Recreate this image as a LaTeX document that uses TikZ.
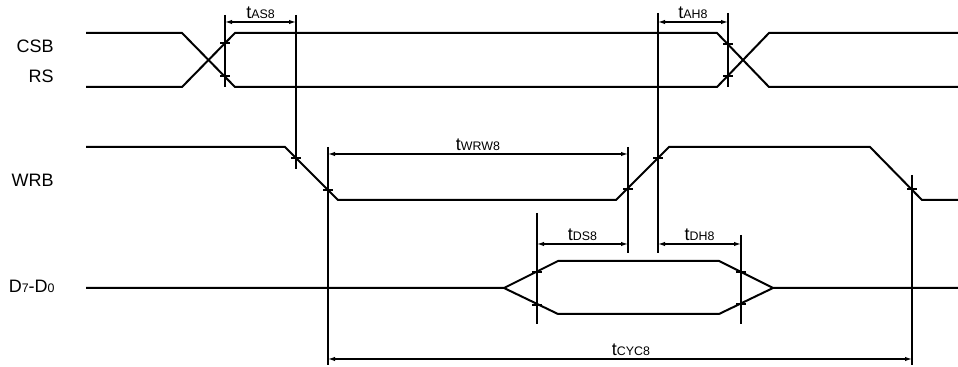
\documentclass[tikz,border=0pt]{standalone}
\usepackage{fontspec}
\setmainfont{Liberation Sans}
\usepackage{tikz}
\usetikzlibrary{arrows.meta}

\newcommand{\subt}[1]{{\fontsize{6.2}{7}\selectfont #1}}

\begin{document}
\begin{tikzpicture}[x=0.5pt, y=-0.5pt,
        sig/.style = {line width=1pt, line join=miter},
        dim/.style = {line width=0.6pt},
        arr/.style = {dim, {Latex[length=3.5pt,width=2.2pt]}-{Latex[length=3.5pt,width=2.2pt]}},
        lbl/.style = {anchor=base east, inner sep=0pt, font=\fontsize{9}{10}\selectfont},
        tim/.style = {midway, anchor=base, inner sep=0pt, yshift=1.6pt, font=\fontsize{9}{10}\selectfont}]

    \useasboundingbox (0,0) rectangle (958,367);

    % signal names
    \node[lbl] (csb) at (54,53) {CSB};
    \node[lbl] (rs) at (54,83) {RS};
    \node[lbl] (wrb) at (54,187) {WRB};
    \node[lbl] (dat) at (55,293) {D\subt{7}-D\subt{0}};

    % waveforms
    \draw[sig] (86,33) -- (182,33) -- (235,87) -- (717,87) -- (769,33) -- (958,33);
    \draw[sig] (86,87) -- (182,87) -- (235,33) -- (717,33) -- (769,87) -- (958,87);
    \draw[sig] (86,147) -- (285,147) -- (338,200) -- (616,200) -- (669,147) -- (870,147) -- (922,200) -- (958,200);
    \draw[sig] (86,288) -- (504,288) -- (558,261) -- (719,261) -- (773,288) -- (958,288);
    \draw[sig] (504,288) -- (558,314) -- (719,314) -- (773,288);

    % reference lines
    \foreach \x/\a/\b in {225/15/87, 296/15/169, 728/13/87, 658/13/253, 328/147/365,
                          628/147/253, 537/213/324, 741/235/324, 912/175/365}
        \draw[dim] (\x,\a) -- (\x,\b);

    % ticks
    \foreach \x/\y in {225/43, 225/76, 728/44, 728/76, 296/158, 328/190, 628/189,
                       658/158, 912/189, 537/272, 537/305, 741/272, 741/304}
        \draw[dim] (\x-5,\y) -- (\x+5,\y);

    % timings
    \coordinate (as1) at (225,22);
    \coordinate (as2) at (296,22);
    \coordinate (ah1) at (658,22);
    \coordinate (ah2) at (728,22);
    \coordinate (wr1) at (328,154);
    \coordinate (wr2) at (628,154);
    \coordinate (ds1) at (537,244);
    \coordinate (ds2) at (628,244);
    \coordinate (dh1) at (658,244);
    \coordinate (dh2) at (741,244);
    \coordinate (cy1) at (328,359);
    \coordinate (cy2) at (912,359);

    \draw[arr] (as1) -- (as2) node[tim] {t\subt{AS8}};
    \draw[arr] (ah1) -- (ah2) node[tim] {t\subt{AH8}};
    \draw[arr] (wr1) -- (wr2) node[tim] {t\subt{WRW8}};
    \draw[arr] (ds1) -- (ds2) node[tim] {t\subt{DS8}};
    \draw[arr] (dh1) -- (dh2) node[tim] {t\subt{DH8}};
    \draw[arr] (cy1) -- (cy2) node[tim, xshift=5.5pt] {t\subt{CYC8}};
\end{tikzpicture}
\end{document}
